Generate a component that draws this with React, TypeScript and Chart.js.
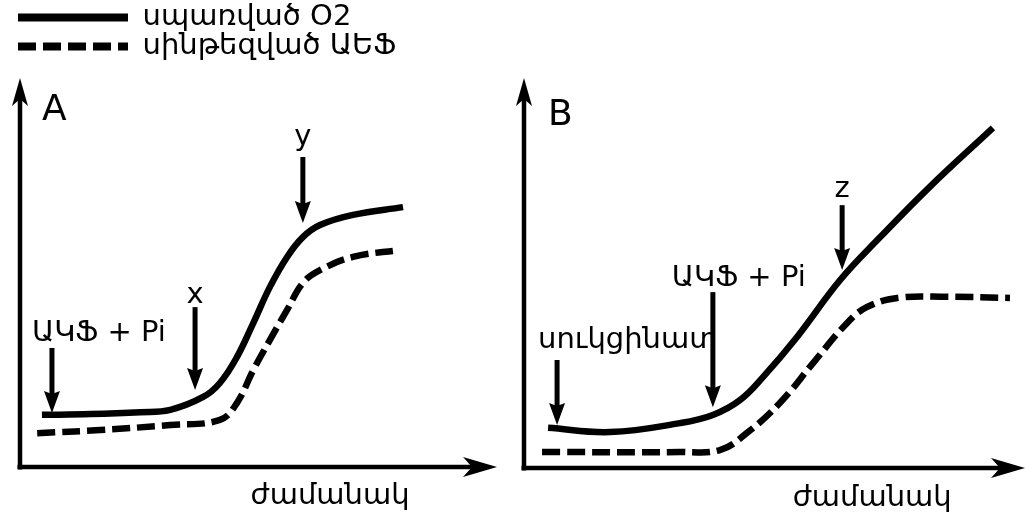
import React, { useEffect, useRef } from "react";
import { Chart, registerables } from "chart.js";

Chart.register(...registerables);

const FONT = '"DejaVu Sans", "Noto Sans", sans-serif';

// Series names (legend)
const seriesNames = ["սպառված O2", "սինթեզված ԱԵՖ"];
const axisTitle = "ժամանակ";

// Panel A – consumed O2 (solid) and synthesized ATP (dashed)
const o2TimeA = [0.46, 1.47, 2.52, 3.15, 3.84, 4.19, 4.55, 4.89, 5.24, 5.6, 5.93, 6.29, 6.98, 8.03];
const o2A = [1.34, 1.36, 1.41, 1.47, 1.8, 2.16, 2.83, 3.7, 4.63, 5.4, 5.91, 6.22, 6.48, 6.68];
const atpTimeA = [0.36, 1.68, 3.15, 4.19, 4.55, 4.89, 5.24, 5.6, 5.93, 6.29, 6.98, 7.97];
const atpA = [0.87, 0.95, 1.08, 1.21, 1.65, 2.49, 3.27, 4.04, 4.73, 5.06, 5.4, 5.58];

// Panel B
const o2TimeB = [0.48, 1.72, 3.11, 3.77, 4.31, 4.77, 5.45, 6.31, 7.11, 8.1, 9.36];
const o2B = [1.03, 0.92, 1.15, 1.36, 1.74, 2.33, 3.36, 4.82, 5.92, 7.21, 8.72];
const atpTimeB = [0.36, 3.11, 3.91, 4.45, 5.11, 5.77, 6.45, 6.85, 7.45, 8.44, 9.7];
const atpB = [0.41, 0.41, 0.46, 0.9, 1.67, 2.69, 3.72, 4.13, 4.36, 4.39, 4.36];

// Annotation arrows (data units): x, from (top), to (tip), label, label anchor
const arrowsA = [
  { label: "ԱԿՖ + Pi", x: 0.67, from: 3.06, to: 1.39, labelX: 0.25, labelY: 3.44, align: "left" },
  { label: "x", x: 3.67, from: 4.11, to: 1.98, labelX: 3.67, labelY: 4.4, align: "center" },
  { label: "y", x: 5.93, from: 7.97, to: 6.27, labelX: 5.93, labelY: 8.48, align: "center" },
];
const arrowsB = [
  { label: "սուկցինատ", x: 0.66, from: 2.77, to: 1.1, labelX: 0.28, labelY: 3.28, align: "left" },
  { label: "ԱԿՖ + Pi", x: 3.77, from: 4.51, to: 1.56, labelX: 2.95, labelY: 4.87, align: "left" },
  { label: "z", x: 6.35, from: 6.74, to: 5.08, labelX: 6.35, labelY: 7.13, align: "center" },
];

// Panel letters and axis titles (data units)
const panelLetters = { A: { x: 0.46, y: 9.15 }, B: { x: 0.48, y: 9.03 } };
const axisTitlePos = { A: { x: 6.5, y: -0.77 }, B: { x: 6.95, y: -0.77 } };

const AXIS_MAX = 10;
const H = 514;

type PanelGeom = { left: number; width: number; padLeft: number; padTop: number; ox: number; oy: number; xTip: number; yTip: number };
const GEOM_A: PanelGeom = { left: 0, width: 510, padLeft: 18, padTop: 0, ox: 20, oy: 467, xTip: 497, yTip: 78 };
const GEOM_B: PanelGeom = { left: 510, width: 517, padLeft: 0, padTop: 0, ox: 524, oy: 468, xTip: 1025, yTip: 78 };

function toPoints(xs: number[], ys: number[]) {
  return xs.map((x, i) => ({ x, y: ys[i] }));
}

function drawArrow(ctx: CanvasRenderingContext2D, x1: number, y1: number, x2: number, y2: number, len: number, half: number, notch: number, lw: number) {
  const ang = Math.atan2(y2 - y1, x2 - x1);
  const ux = Math.cos(ang), uy = Math.sin(ang);
  const bx = x2 - ux * len, by = y2 - uy * len;
  const nx = x2 - ux * (len - notch), ny = y2 - uy * (len - notch);
  ctx.save();
  ctx.strokeStyle = "#000";
  ctx.fillStyle = "#000";
  ctx.lineWidth = lw;
  ctx.lineCap = "butt";
  ctx.beginPath();
  ctx.moveTo(x1, y1);
  ctx.lineTo(nx + ux * 2, ny + uy * 2);
  ctx.stroke();
  ctx.beginPath();
  ctx.moveTo(x2, y2);
  ctx.lineTo(bx - uy * half, by + ux * half);
  ctx.lineTo(nx, ny);
  ctx.lineTo(bx + uy * half, by - ux * half);
  ctx.closePath();
  ctx.fill();
  ctx.restore();
}

function makeDecor(letter: "A" | "B", arrows: typeof arrowsA) {
  return {
    id: "decor" + letter,
    afterDatasetsDraw(chart: any) {
      const ctx: CanvasRenderingContext2D = chart.ctx;
      const xs = chart.scales.x, ys = chart.scales.y;
      const px = (v: number) => xs.getPixelForValue(v);
      const py = (v: number) => ys.getPixelForValue(v);
      // axes
      drawArrow(ctx, px(0), py(0) + 2.5, px(0), py(AXIS_MAX), 28, 8, 7, 4.5);
      drawArrow(ctx, px(0) - 2.5, py(0), px(AXIS_MAX), py(0), 34, 10, 9, 4.5);
      // annotation arrows
      ctx.save();
      ctx.fillStyle = "#000";
      ctx.textBaseline = "middle";
      ctx.font = `29px ${FONT}`;
      arrows.forEach((a) => {
        drawArrow(ctx, px(a.x), py(a.from), px(a.x), py(a.to), 22, 8, 3, 5);
        ctx.textAlign = a.align as CanvasTextAlign;
        ctx.fillText(a.label, px(a.labelX), py(a.labelY));
      });
      // axis title
      ctx.textAlign = "center";
      ctx.fillText(axisTitle, px(axisTitlePos[letter].x), py(axisTitlePos[letter].y));
      // panel letter
      ctx.textAlign = "left";
      ctx.font = `36px ${FONT}`;
      ctx.fillText(letter, px(panelLetters[letter].x), py(panelLetters[letter].y));
      ctx.restore();
    },
  };
}

function Panel({ letter, geom, o2, atp, arrows, legend }: any) {
  const ref = useRef<HTMLCanvasElement>(null);
  useEffect(() => {
    if (!ref.current) return;
    const span = geom.xTip - geom.ox;
    const vspan = geom.oy - geom.yTip;
    const xmin = ((geom.left + geom.padLeft - geom.ox) / span) * AXIS_MAX;
    const xmax = ((geom.left + geom.width - geom.ox) / span) * AXIS_MAX;
    const ymax = ((geom.oy - geom.padTop) / vspan) * AXIS_MAX;
    const ymin = ((geom.oy - H) / vspan) * AXIS_MAX;
    const chart = new Chart(ref.current, {
      type: "line",
      data: {
        datasets: [
          {
            label: seriesNames[0],
            data: o2,
            borderColor: "#000",
            backgroundColor: "#000",
            borderWidth: 6.5,
            pointRadius: 0,
            tension: 0.4,
            borderCapStyle: "butt",
          },
          {
            label: seriesNames[1],
            data: atp,
            borderColor: "#000",
            backgroundColor: "#000",
            borderWidth: 6.5,
            borderDash: [18, 7],
            pointRadius: 0,
            tension: 0.4,
            borderCapStyle: "butt",
          },
        ],
      },
      options: {
        animation: false,
        responsive: false,
        devicePixelRatio: 1,
        layout: { padding: { left: geom.padLeft, right: 0, top: geom.padTop, bottom: 0 }, autoPadding: false },
        scales: {
          x: { type: "linear", min: xmin, max: xmax, display: false },
          y: { type: "linear", min: ymin, max: ymax, display: false },
        },
        plugins: {
          tooltip: { enabled: false },
          legend: legend
            ? {
                display: true,
                position: "chartArea",
                align: "start",
                title: { display: true, text: "", font: { size: 1, lineHeight: 1 }, padding: { top: 1, bottom: 1 } },
                labels: {
                  usePointStyle: true,
                  pointStyle: "line",
                  pointStyleWidth: 110,
                  padding: 0,
                  color: "#000",
                  font: { family: FONT, size: 29 },
                  generateLabels: (c: any) =>
                    Chart.defaults.plugins.legend.labels.generateLabels(c).map((l: any, i: number) => ({
                      ...l,
                      lineWidth: 8,
                      pointStyle: "line",
                      lineDash: i === 1 ? [18, 7] : [],
                      lineDashOffset: 0,
                    })),
                },
              }
            : { display: false },
        },
      },
      plugins: [makeDecor(letter, arrows)],
    } as any);
    return () => chart.destroy();
  }, []);
  return (
    <canvas
      ref={ref}
      width={geom.width}
      height={H}
      style={{ position: "absolute", left: geom.left, top: 0, width: geom.width, height: H, display: "block" }}
    />
  );
}

export default function App() {
  return (
    <div style={{ position: "fixed", left: 0, top: 0, width: 1027, height: H, background: "#fff" }}>
      <Panel letter="A" geom={GEOM_A} o2={toPoints(o2TimeA, o2A)} atp={toPoints(atpTimeA, atpA)} arrows={arrowsA} legend />
      <Panel letter="B" geom={GEOM_B} o2={toPoints(o2TimeB, o2B)} atp={toPoints(atpTimeB, atpB)} arrows={arrowsB} legend={false} />
    </div>
  );
}
